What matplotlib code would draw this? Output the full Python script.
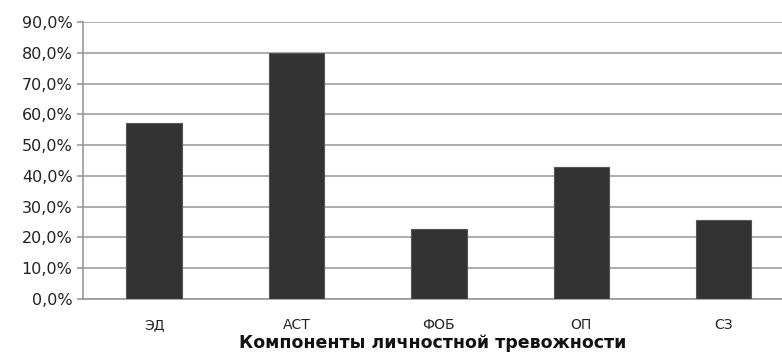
import matplotlib.pyplot as plt
from matplotlib.ticker import FuncFormatter

# Доли по компонентам личностной тревожности, %
categories = ["ЭД", "АСТ", "ФОБ", "ОП", "СЗ"]
values = [57.1, 80.0, 22.9, 42.9, 25.7]
y_ticks = [0, 10, 20, 30, 40, 50, 60, 70, 80, 90]

plt.rcParams["font.family"] = ["DejaVu Sans"]

W, H = 782, 354
fig = plt.figure(figsize=(W / 100, H / 100), dpi=100)
ax = fig.add_axes([83 / W, (H - 299) / H, 1 - 83 / W, (299 - 22) / H])

x = range(len(categories))
ax.bar(x, values, width=0.39, color="#333333", edgecolor="#555555",
       linewidth=0.8, zorder=3)

ax.set_xlim(-0.5, 4.41)
ax.set_ylim(0, 90)
ax.set_yticks(y_ticks)
ax.yaxis.set_major_formatter(FuncFormatter(lambda v, p: f"{v:.1f}%".replace(".", ",")))
ax.set_xticks(list(x))
ax.set_xticklabels(categories)

ax.grid(axis="y", color="#a0a0a0", linewidth=1.2, zorder=0)
ax.grid(axis="x", visible=False)
ax.set_axisbelow(True)

for side in ("top", "right"):
    ax.spines[side].set_visible(False)
for side in ("left", "bottom"):
    ax.spines[side].set_color("#999999")
    ax.spines[side].set_linewidth(1.2)

ax.tick_params(axis="y", length=4.5, width=1.2, color="#999999",
               labelsize=11.5, labelcolor="#222222", pad=3)
ax.tick_params(axis="x", length=0, labelsize=10, labelcolor="#222222", pad=14)

ax.set_xlabel("Компоненты личностной тревожности", fontsize=12.5,
              fontweight="bold", color="#111111", labelpad=1)

fig.savefig("out.png", dpi=100)
